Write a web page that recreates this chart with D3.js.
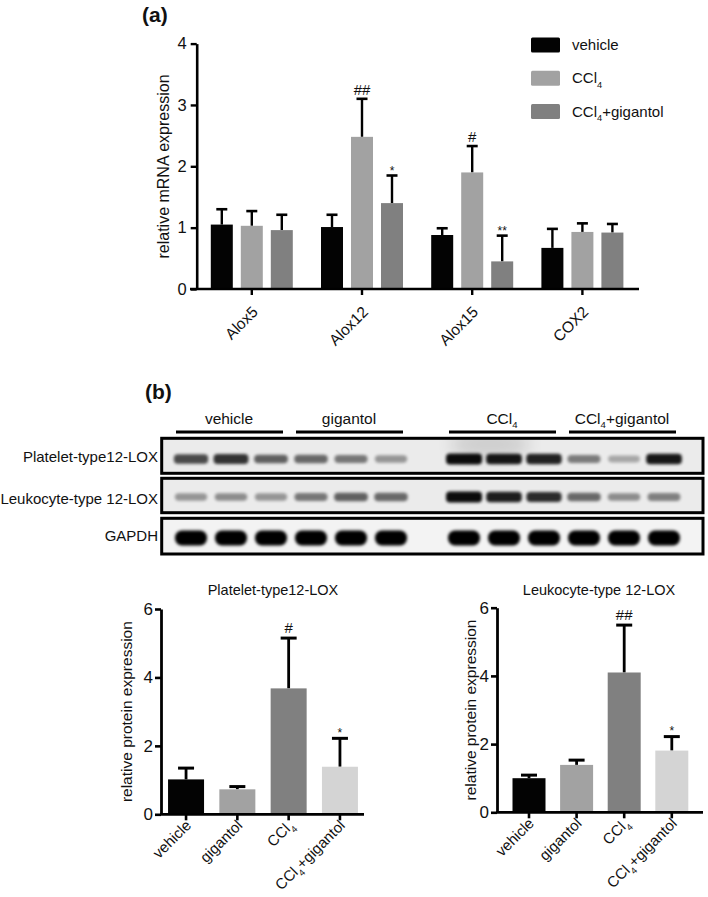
<!DOCTYPE html>
<html><head><meta charset="utf-8">
<script src="https://cdn.jsdelivr.net/npm/d3@7"></script>
<style>
body{margin:0;background:#fff}
svg{display:block}
text{font-family:"Liberation Sans",Arial,Helvetica,sans-serif;fill:#111}
</style>
</head><body>
<svg id="c" width="708" height="897"></svg>
<script>
// ---------- DATA ----------
// Panel (a)
const genes = ["Alox5", "Alox12", "Alox15", "COX2"];
const seriesA = ["vehicle", "CCl4", "CCl4+gigantol"];
const vehicleMean = [1.05, 1.01, 0.88, 0.67];
const vehicleSD   = [0.25, 0.20, 0.11, 0.31];
const ccl4Mean    = [1.03, 2.48, 1.90, 0.93];
const ccl4SD      = [0.24, 0.62, 0.43, 0.14];
const ccl4GigMean = [0.96, 1.40, 0.45, 0.92];
const ccl4GigSD   = [0.25, 0.45, 0.42, 0.14];
const vehicleSig  = ["", "", "", ""];
const ccl4Sig     = ["", "##", "#", ""];
const ccl4GigSig  = ["", "*", "**", ""];
const yTicksA = [0, 1, 2, 3, 4];

// Panel (b) blot
const blotGroups = ["vehicle", "gigantol", "CCl4", "CCl4+gigantol"];
const blotRows = ["Platelet-type12-LOX", "Leukocyte-type 12-LOX", "GAPDH"];
const plateletBands  = [0.72, 0.82, 0.62, 0.58, 0.52, 0.38, 1.0, 0.95, 0.9, 0.5, 0.3, 0.95];
const leukocyteBands = [0.38, 0.42, 0.38, 0.52, 0.62, 0.58, 1.0, 0.92, 0.86, 0.58, 0.42, 0.48];
const gapdhBands     = [1, 1, 1, 1, 1, 1, 1, 1, 1, 1, 1, 1];

// Panel (b) bar charts
const groupsB = ["vehicle", "gigantol", "CCl4", "CCl4+gigantol"];
const plateletMean = [1.02, 0.73, 3.68, 1.39];
const plateletSD   = [0.33, 0.08, 1.47, 0.83];
const plateletSig  = ["", "", "#", "*"];
const leukMean = [1.00, 1.39, 4.10, 1.81];
const leukSD   = [0.09, 0.14, 1.39, 0.41];
const leukSig  = ["", "", "##", "*"];
const yTicksB = [0, 2, 4, 6];

// ---------- HELPERS ----------
const svg = d3.select("#c");
const defs = svg.append("defs");
defs.append("filter").attr("id", "blur").attr("x", "-50%").attr("y", "-100%").attr("width", "200%").attr("height", "300%")
  .append("feGaussianBlur").attr("stdDeviation", 1.6);
defs.append("filter").attr("id", "blurBig").attr("x", "-50%").attr("y", "-50%").attr("width", "200%").attr("height", "200%")
  .append("feGaussianBlur").attr("stdDeviation", 8);

function rich(sel, fs) {
  sel.each(function (d) {
    const str = typeof d === "string" ? d : d.label;
    const t = d3.select(this); t.text(null);
    const idx = str.indexOf("CCl4");
    if (idx < 0) { t.text(str); return; }
    if (idx > 0) t.append("tspan").text(str.slice(0, idx));
    t.append("tspan").text("CCl");
    t.append("tspan").attr("font-size", fs * 0.62).attr("dy", fs * 0.32).text("4");
    const rest = str.slice(idx + 4);
    if (rest) t.append("tspan").attr("dy", -fs * 0.32).text(rest);
  });
}

// ---------- PANEL (a) ----------
svg.append("text").attr("x", 142).attr("y", 22).attr("font-size", 21).attr("font-weight", "bold").text("(a)");

const yA = d3.scaleLinear().domain([0, 4]).range([289, 43.6]);
const xA = d3.scaleBand().domain(genes).range([196.7, 637.5]);
const offA = d3.scalePoint().domain(seriesA).range([-30, 30]);
const colorA = d3.scaleOrdinal().domain(seriesA).range(["#030303", "#a2a2a2", "#808080"]);
const meansA = [vehicleMean, ccl4Mean, ccl4GigMean];
const sdsA = [vehicleSD, ccl4SD, ccl4GigSD];
const sigsA = [vehicleSig, ccl4Sig, ccl4GigSig];
const dataA = [];
seriesA.forEach((s, si) => genes.forEach((g, gi) => dataA.push({ s, g, m: meansA[si][gi], sd: sdsA[si][gi], sig: sigsA[si][gi] })));
const bwA = 22;
const gA = svg.append("g");
const cxA = d => xA(d.g) + xA.bandwidth() / 2 + offA(d.s);

gA.selectAll("line.err").data(dataA).join("line")
  .attr("x1", cxA).attr("x2", cxA).attr("y1", d => yA(d.m)).attr("y2", d => yA(d.m + d.sd))
  .attr("stroke", "#000").attr("stroke-width", 2.4);
gA.selectAll("line.cap").data(dataA).join("line")
  .attr("x1", d => cxA(d) - 5.5).attr("x2", d => cxA(d) + 5.5).attr("y1", d => yA(d.m + d.sd)).attr("y2", d => yA(d.m + d.sd))
  .attr("stroke", "#000").attr("stroke-width", 2.6);
gA.selectAll("rect.bar").data(dataA).join("rect")
  .attr("x", d => cxA(d) - bwA / 2).attr("width", bwA)
  .attr("y", d => yA(d.m)).attr("height", d => yA(0) - yA(d.m))
  .attr("fill", d => colorA(d.s));
gA.selectAll("text.sig").data(dataA.filter(d => d.sig)).join("text")
  .attr("x", cxA).attr("text-anchor", "middle")
  .attr("y", d => d.sig.includes("#") ? yA(d.m + d.sd) - 4 : yA(d.m + d.sd) - 1)
  .attr("font-size", d => d.sig.includes("#") ? 15 : 12)
  .text(d => d.sig);

// y axis
const axA = svg.append("g").attr("transform", "translate(196.7,0)")
  .call(d3.axisLeft(yA).tickValues(yTicksA).tickSize(6).tickSizeOuter(0).tickPadding(4).tickFormat(d3.format("d")));
axA.select(".domain").attr("stroke-width", 2.6);
axA.selectAll(".tick line").attr("stroke-width", 2.4);
axA.selectAll(".tick text").attr("font-size", 16.5).attr("font-family", "Liberation Sans, Arial, sans-serif").attr("fill", "#111");
// x axis
const axXA = svg.append("g").attr("transform", "translate(0,289)")
  .call(d3.axisBottom(xA).tickSize(6).tickSizeOuter(0).tickFormat(""));
axXA.select(".domain").remove();
axXA.selectAll(".tick line").attr("stroke-width", 2.4);
svg.append("line").attr("x1", 190).attr("x2", 639).attr("y1", 289).attr("y2", 289).attr("stroke", "#000").attr("stroke-width", 2.6);
svg.selectAll("text.xla").data(genes).join("text")
  .attr("transform", d => `translate(${xA(d) + xA.bandwidth() / 2 + 7},${313}) rotate(-45)`)
  .attr("text-anchor", "end").attr("font-size", 15.5).text(d => d);
svg.append("text").attr("transform", "translate(169,166.5) rotate(-90)").attr("text-anchor", "middle")
  .attr("font-size", 16).text("relative mRNA expression");

// legend
const legA = svg.append("g");
seriesA.forEach((s, i) => {
  const cy = 45 + i * 33.3;
  legA.append("rect").attr("x", 531).attr("y", cy - 7.5).attr("width", 29).attr("height", 15).attr("rx", 1.5).attr("fill", colorA(s));
  legA.append("text").datum(s).attr("x", 572).attr("y", cy + 5).attr("font-size", 15).call(rich, 15);
});

// ---------- PANEL (b) BLOT ----------
svg.append("text").attr("x", 145).attr("y", 399).attr("font-size", 21).attr("font-weight", "bold").text("(b)");

const laneX = i => 191 + 40 * i + (i >= 6 ? 33 : 0);
const blotL = 161.7, blotR = 703;
const rowBoxes = [[438.3, 473.3, 459], [478.3, 512.7, 497], [518.3, 554, 538]];
const rowLabelY = [461.5, 504, 540.5];
const bandsAll = [plateletBands, leukocyteBands, gapdhBands];

// group labels & underlines
blotGroups.forEach((g, gi) => {
  const x1 = laneX(gi * 3), x3 = laneX(gi * 3 + 2);
  svg.append("line").attr("x1", x1 - 15).attr("x2", x3 + 12).attr("y1", 432).attr("y2", 432).attr("stroke", "#000").attr("stroke-width", 2.8);
  svg.append("text").datum(g).attr("x", (x1 + x3) / 2 - 2).attr("y", 423.5).attr("text-anchor", "middle").attr("font-size", 15.5).call(rich, 15.5);
});

rowBoxes.forEach((b, ri) => {
  const [y0, y1, by] = b;
  const gRow = svg.append("g");
  const clipId = "clip" + ri;
  defs.append("clipPath").attr("id", clipId).append("rect").attr("x", blotL).attr("y", y0).attr("width", blotR - blotL).attr("height", y1 - y0);
  const inner = gRow.append("g").attr("clip-path", `url(#${clipId})`);
  inner.append("rect").attr("x", blotL).attr("y", y0).attr("width", blotR - blotL).attr("height", y1 - y0).attr("fill", ri === 2 ? "#f3f3f3" : "#ebebeb");
  if (ri === 0) {
    inner.append("ellipse").attr("cx", 490).attr("cy", y0 + 6).attr("rx", 40).attr("ry", 14).attr("fill", "#000").attr("opacity", 0.12).attr("filter", "url(#blurBig)");
  }
  const bands = bandsAll[ri];
  inner.selectAll("rect.band").data(bands).join("rect")
    .attr("x", (d, i) => laneX(i) - (ri === 2 ? 16 : 15 + 3 * d))
    .attr("width", (d, i) => ri === 2 ? 32 : 30 + 6 * d)
    .attr("y", (d, i) => by - (ri === 2 ? 7.5 : 2.5 + 3 * d))
    .attr("height", (d, i) => ri === 2 ? 15 : 5 + 6 * d)
    .attr("rx", ri === 2 ? 7 : 4)
    .attr("fill", "#000")
    .attr("opacity", d => ri === 2 ? 1 : Math.min(1, d * 0.95))
    .attr("filter", "url(#blur)");
  gRow.append("rect").attr("x", blotL).attr("y", y0).attr("width", blotR - blotL).attr("height", y1 - y0)
    .attr("fill", "none").attr("stroke", "#000").attr("stroke-width", 3);
  svg.append("text").attr("x", 158).attr("y", rowLabelY[ri]).attr("text-anchor", "end").attr("font-size", 15).text(blotRows[ri]);
});

// ---------- PANEL (b) BAR CHARTS ----------
const colorB = d3.scaleOrdinal().domain(groupsB).range(["#030303", "#a2a2a2", "#808080", "#d4d4d4"]);
function barChart(cfg) {
  const y = d3.scaleLinear().domain([0, 6]).range([cfg.y0, cfg.y6]);
  const x = d3.scaleBand().domain(groupsB).range(cfg.xr);
  const cx = d => x(d.g) + x.bandwidth() / 2;
  const data = groupsB.map((g, i) => ({ g, m: cfg.mean[i], sd: cfg.sd[i], sig: cfg.sig[i] }));
  const g = svg.append("g");
  g.selectAll("line.err").data(data).join("line")
    .attr("x1", cx).attr("x2", cx).attr("y1", d => y(d.m)).attr("y2", d => y(d.m + d.sd))
    .attr("stroke", "#000").attr("stroke-width", 2.8);
  g.selectAll("line.cap").data(data).join("line")
    .attr("x1", d => cx(d) - 8).attr("x2", d => cx(d) + 8).attr("y1", d => y(d.m + d.sd)).attr("y2", d => y(d.m + d.sd))
    .attr("stroke", "#000").attr("stroke-width", 3);
  g.selectAll("rect.bar").data(data).join("rect")
    .attr("x", d => cx(d) - cfg.bw / 2).attr("width", cfg.bw)
    .attr("y", d => y(d.m)).attr("height", d => y(0) - y(d.m)).attr("fill", d => colorB(d.g));
  g.selectAll("text.sig").data(data.filter(d => d.sig)).join("text")
    .attr("x", cx).attr("text-anchor", "middle")
    .attr("y", d => d.sig.includes("#") ? y(d.m + d.sd) - 5 : y(d.m + d.sd) - 1.5)
    .attr("font-size", d => d.sig.includes("#") ? 15 : 12).text(d => d.sig);
  const ay = svg.append("g").attr("transform", `translate(${cfg.ax},0)`)
    .call(d3.axisLeft(y).tickValues(yTicksB).tickSize(6).tickSizeOuter(0).tickPadding(2).tickFormat(d3.format("d")));
  ay.select(".domain").attr("stroke-width", 2.8);
  ay.selectAll(".tick line").attr("stroke-width", 2.6);
  ay.selectAll(".tick text").attr("font-size", 17).attr("font-family", "Liberation Sans, Arial, sans-serif").attr("fill", "#111");
  const axx = svg.append("g").attr("transform", `translate(0,${cfg.y0})`)
    .call(d3.axisBottom(x).tickSize(6).tickSizeOuter(0).tickFormat(""));
  axx.select(".domain").remove();
  axx.selectAll(".tick line").attr("stroke-width", 2.6);
  svg.append("line").attr("x1", cfg.ax - 1).attr("x2", cfg.xend).attr("y1", cfg.y0).attr("y2", cfg.y0).attr("stroke", "#000").attr("stroke-width", 2.8);
  svg.selectAll(null).data(groupsB).join("text")
    .attr("transform", d => `translate(${x(d) + x.bandwidth() / 2 + 6},${cfg.y0 + 12}) rotate(-45)`)
    .attr("text-anchor", "end").attr("font-size", 15).call(rich, 15);
  svg.append("text").attr("transform", `translate(${cfg.ylx},${(cfg.y0 + cfg.y6) / 2}) rotate(-90)`).attr("text-anchor", "middle")
    .attr("font-size", 15.5).text("relative protein  expression");
  svg.append("text").attr("x", cfg.tx).attr("y", cfg.ty).attr("text-anchor", "middle").attr("font-size", 14.5).text(cfg.title);
}
barChart({ title: "Platelet-type12-LOX", mean: plateletMean, sd: plateletSD, sig: plateletSig,
  y0: 814.3, y6: 609, xr: [160.4, 365.6], ax: 161, xend: 364, bw: 36, ylx: 132, tx: 273, ty: 595 });
barChart({ title: "Leukocyte-type 12-LOX", mean: leukMean, sd: leukSD, sig: leukSig,
  y0: 812.3, y6: 607.7, xr: [505.2, 695.6], ax: 497, xend: 703, bw: 33, ylx: 476, tx: 599, ty: 595 });
</script>
</body></html>
